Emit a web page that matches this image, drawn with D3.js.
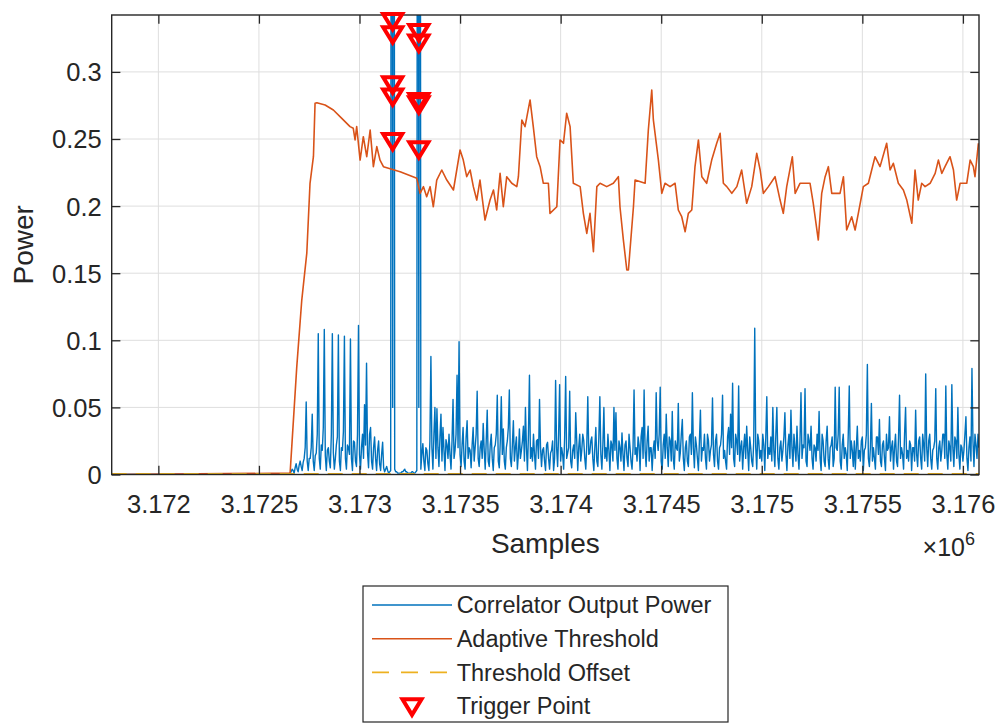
<!DOCTYPE html>
<html><head><meta charset="utf-8">
<script src="https://cdn.jsdelivr.net/npm/d3@7"></script>
<style>
body{margin:0;background:#fff}
svg{display:block}
text{font-family:"Liberation Sans",Arial,Helvetica,sans-serif;fill:#262626}
</style>
</head><body>
<svg id="chart" width="1001" height="724"></svg>
<script>
// ---------------- data ----------------
const xLimits = [3171768, 3176080];
const yLimits = [0, 0.3424];
const xTicks = [3172000, 3172500, 3173000, 3173500, 3174000, 3174500, 3175000, 3175500, 3176000];
const xTickLabels = ["3.172", "3.1725", "3.173", "3.1735", "3.174", "3.1745", "3.175", "3.1755", "3.176"];
const yTicks = [0, 0.05, 0.1, 0.15, 0.2, 0.25, 0.3];
const yTickLabels = ["0", "0.05", "0.1", "0.15", "0.2", "0.25", "0.3"];
const seriesNames = ["Correlator Output Power", "Adaptive Threshold", "Threshold Offset", "Trigger Point"];

// Correlator output power: quiet lead-in, then samples every 5 (even ones in corrValues, odd ones in corrMidValues)
const corrLeadSamples = [3171768, 3172645];
const corrLeadValues = [0, 0];
const corrStart = 3172655;
const corrStep = 10;
const corrValues = [
0.001,0.004,0.001,0.008,0.002,0.010,0.003,0.012,0.054,0.003,
0.012,0.045,0.003,0.016,0.105,0.004,0.018,0.108,0.003,0.020,
0.005,0.105,0.004,0.022,0.104,0.003,0.018,0.103,0.004,0.020,
0.101,0.003,0.024,0.006,0.111,0.004,0.030,0.052,0.083,0.005,
0.035,0.004,0.028,0.003,0.025,0.003,0.024,0.002,0.006,0.001,
0.003,0.050,0.004,0.002,0.001,0.001,0.002,0.004,0.002,0.001,
0.001,0.002,0.001,0.003,0.050,0.004,0.023,0.003,0.018,0.003,
0.088,0.004,0.050,0.049,0.006,0.045,0.035,0.003,0.022,0.030,
0.004,0.056,0.018,0.074,0.099,0.006,0.035,0.004,0.040,0.020,
0.005,0.035,0.020,0.062,0.006,0.025,0.038,0.004,0.048,0.006,
0.030,0.003,0.022,0.059,0.005,0.058,0.034,0.004,0.025,0.063,
0.006,0.040,0.020,0.004,0.034,0.018,0.036,0.050,0.003,0.074,
0.020,0.030,0.004,0.026,0.056,0.006,0.020,0.003,0.024,0.004,
0.018,0.003,0.070,0.006,0.067,0.020,0.004,0.073,0.016,0.062,
0.005,0.022,0.046,0.003,0.030,0.018,0.025,0.004,0.058,0.016,
0.028,0.003,0.035,0.006,0.058,0.004,0.050,0.020,0.030,0.003,
0.022,0.050,0.046,0.004,0.020,0.031,0.003,0.025,0.006,0.020,
0.004,0.063,0.020,0.028,0.003,0.035,0.063,0.006,0.036,0.020,
0.003,0.025,0.061,0.018,0.065,0.004,0.030,0.045,0.006,0.025,
0.047,0.004,0.020,0.053,0.016,0.041,0.003,0.025,0.006,0.030,
0.061,0.005,0.022,0.003,0.048,0.020,0.030,0.004,0.025,0.018,
0.057,0.006,0.030,0.004,0.022,0.059,0.018,0.004,0.035,0.045,
0.068,0.006,0.025,0.066,0.020,0.004,0.030,0.036,0.003,0.020,
0.006,0.109,0.004,0.025,0.018,0.030,0.003,0.058,0.020,0.028,
0.050,0.006,0.050,0.004,0.025,0.018,0.046,0.003,0.030,0.048,
0.006,0.020,0.036,0.004,0.061,0.022,0.064,0.006,0.025,0.036,
0.004,0.020,0.030,0.047,0.003,0.025,0.006,0.036,0.004,0.022,
0.006,0.065,0.018,0.065,0.004,0.030,0.020,0.003,0.066,0.025,
0.006,0.004,0.036,0.018,0.025,0.003,0.020,0.082,0.006,0.053,
0.020,0.004,0.028,0.041,0.006,0.025,0.003,0.018,0.043,0.020,
0.004,0.030,0.006,0.059,0.020,0.004,0.050,0.018,0.025,0.003,
0.020,0.048,0.006,0.028,0.004,0.022,0.075,0.006,0.030,0.004,
0.020,0.064,0.004,0.025,0.018,0.030,0.066,0.004,0.020,0.067,
0.006,0.025,0.050,0.004,0.020,0.018,0.043,0.003,0.028,0.079,0.006,0.022,0.030
];
const corrMidValues = [
0.002,0.003,0.005,0.004,0.007,0.006,0.009,0.020,0.010,0.012,
0.020,0.010,0.014,0.030,0.012,0.022,0.035,0.014,0.018,0.010,
0.030,0.016,0.012,0.028,0.010,0.020,0.032,0.012,0.022,0.015,
0.012,0.025,0.010,0.030,0.015,0.020,0.012,0.022,0.016,0.030,
0.010,0.020,0.012,0.018,0.008,0.015,0.005,0.004,0.003,0.002,
1.100,1.100,0.002,0.001,0.001,0.002,0.003,0.002,0.001,0.001,
0.002,0.001,0.002,1.000,1.000,0.015,0.010,0.020,0.008,0.025,
0.020,0.030,0.012,0.020,0.028,0.010,0.018,0.026,0.012,0.015,
0.025,0.012,0.030,0.020,0.015,0.022,0.010,0.028,0.012,0.018,
0.022,0.010,0.030,0.012,0.020,0.012,0.018,0.025,0.010,0.022,
0.012,0.020,0.030,0.010,0.025,0.015,0.010,0.020,0.035,0.012,
0.022,0.010,0.028,0.015,0.012,0.025,0.010,0.020,0.030,0.012,
0.010,0.015,0.025,0.012,0.020,0.018,0.010,0.022,0.012,0.016,
0.025,0.012,0.020,0.030,0.010,0.015,0.028,0.012,0.020,0.010,
0.018,0.012,0.025,0.020,0.010,0.030,0.012,0.022,0.015,0.025,
0.012,0.020,0.010,0.028,0.015,0.022,0.012,0.010,0.018,0.025,
0.010,0.018,0.012,0.025,0.010,0.015,0.022,0.012,0.030,0.010,
0.020,0.015,0.010,0.022,0.028,0.012,0.018,0.025,0.010,0.020,
0.018,0.012,0.025,0.030,0.010,0.022,0.012,0.020,0.028,0.010,
0.012,0.025,0.018,0.010,0.030,0.012,0.020,0.010,0.028,0.015,
0.020,0.028,0.012,0.025,0.010,0.018,0.012,0.030,0.010,0.022,
0.015,0.025,0.010,0.020,0.030,0.012,0.010,0.028,0.015,0.020,
0.012,0.030,0.015,0.010,0.025,0.020,0.012,0.018,0.028,0.010,
0.025,0.020,0.030,0.012,0.010,0.022,0.028,0.012,0.015,0.010,
0.018,0.030,0.012,0.020,0.010,0.028,0.015,0.022,0.012,0.020,
0.030,0.010,0.015,0.025,0.012,0.020,0.010,0.030,0.018,0.012,
0.022,0.010,0.018,0.012,0.030,0.010,0.025,0.012,0.020,0.028,
0.012,0.020,0.030,0.010,0.022,0.012,0.015,0.030,0.012,0.018,
0.025,0.020,0.012,0.010,0.028,0.018,0.030,0.012,0.020,0.010,
0.012,0.028,0.015,0.010,0.022,0.012,0.030,0.020,0.010,0.025,
0.020,0.010,0.028,0.012,0.015,0.030,0.012,0.010,0.022,0.020,
0.010,0.015,0.025,0.012,0.030,0.010,0.020,0.025,0.012,0.018,
0.025,0.012,0.020,0.010,0.030,0.012,0.015,0.025,0.010,0.020,
0.028,0.012,0.015,0.022,0.010,0.030,0.012,0.020,0.010,0.025,0.030,0.012,0.020
];

// Adaptive threshold
const thresholdSamples = [
3171768,3172655,3172688,3172713,3172738,3172754,3172771,3172779,3172788,3172829,
3172870,3172912,3172953,3172969,3172978,3172986,3173003,3173019,3173036,3173053,
3173069,3173086,3173102,3173119,3173202,3173285,3173301,3173318,3173334,3173351,
3173367,3173384,3173409,3173434,3173467,3173500,3173516,3173533,3173550,3173566,
3173583,3173599,3173624,3173649,3173666,3173682,3173699,3173715,3173732,3173757,
3173782,3173790,3173807,3173823,3173848,3173864,3173881,3173898,3173914,3173939,
3173947,3173981,3173997,3174014,3174030,3174047,3174063,3174097,3174113,3174130,
3174146,3174163,3174180,3174196,3174229,3174262,3174287,3174295,3174312,3174329,
3174337,3174362,3174370,3174420,3174436,3174453,3174461,3174486,3174503,3174519,
3174544,3174569,3174585,3174602,3174619,3174635,3174652,3174668,3174685,3174702,
3174726,3174751,3174776,3174793,3174809,3174826,3174851,3174876,3174900,3174925,
3174950,3174975,3174992,3175008,3175033,3175066,3175091,3175107,3175124,3175152,
3175166,3175190,3175240,3175256,3175281,3175298,3175315,3175331,3175348,3175389,
3175406,3175422,3175447,3175464,3175480,3175505,3175530,3175563,3175588,3175621,
3175638,3175654,3175679,3175704,3175721,3175746,3175762,3175778,3175795,3175812,
3175837,3175862,3175878,3175895,3175911,3175936,3175953,3175969,3175986,3176019,
3176036,3176052,3176060,3176077
];
const thresholdValues = [
0,0.001,0.080,0.130,0.165,0.217,0.237,0.2766,0.277,0.2753,
0.2716,0.2654,0.2592,0.258,0.2493,0.2592,0.2343,0.2517,0.2368,0.2567,
0.2294,0.2443,0.2343,0.2294,0.2256,0.2207,0.2095,0.2145,0.207,0.2145,
0.1995,0.2194,0.2269,0.2194,0.212,0.2418,0.2343,0.2219,0.2269,0.2145,
0.2045,0.2194,0.1896,0.2045,0.212,0.1971,0.2244,0.1995,0.2219,0.217,
0.2145,0.2219,0.2642,0.2592,0.2791,0.2592,0.2368,0.2294,0.217,0.217,
0.1946,0.1995,0.2493,0.2468,0.2692,0.2592,0.217,0.2145,0.1946,0.1797,
0.1946,0.166,0.2145,0.217,0.2145,0.217,0.2219,0.1995,0.1747,0.1524,
0.1524,0.1995,0.2194,0.217,0.2567,0.2865,0.2642,0.2343,0.2095,0.217,
0.2145,0.217,0.1971,0.1921,0.1809,0.1946,0.1971,0.2294,0.2493,0.2219,
0.217,0.2343,0.2468,0.2542,0.217,0.2145,0.2095,0.2145,0.2269,0.2021,
0.2145,0.2393,0.2269,0.2095,0.2145,0.2219,0.2045,0.1946,0.2145,0.2368,
0.2095,0.217,0.217,0.2021,0.1747,0.2095,0.2219,0.2294,0.2095,0.2095,
0.2219,0.1822,0.1921,0.1822,0.1946,0.2145,0.217,0.2368,0.2294,0.2468,
0.2269,0.2319,0.217,0.212,0.2045,0.1872,0.2269,0.2045,0.217,0.2145,
0.217,0.2244,0.2343,0.2244,0.2294,0.2368,0.2269,0.2045,0.217,0.217,
0.2343,0.2294,0.2219,0.2468
];

// Threshold offset (constant)
const offsetSamples = [3171768, 3176080];
const offsetValues = [0.0005, 0.0005];

// Trigger points
const triggerSamples = [3173165,3173165,3173165,3173165,3173165,3173295,3173295,3173295,3173295,3173295];
const triggerValues = [0.3374,0.3275,0.2902,0.2811,0.2480,0.3292,0.3213,0.2778,0.2753,0.2418];

// ---------------- drawing ----------------
const colors = {corr: "#0072BD", thr: "#D95319", off: "#EDB120", trig: "#FF0000", axis: "#262626", grid: "#dedede"};
const L = 111.7, R = 979, T = 15, B = 474.5;
const svg = d3.select("#chart");
const x = d3.scaleLinear().domain(xLimits).range([L, R]);
const y = d3.scaleLinear().domain(yLimits).range([B, T]);

svg.append("rect").attr("x", 0).attr("y", 0).attr("width", 1001).attr("height", 724).attr("fill", "#fff");

svg.append("defs").append("clipPath").attr("id", "clip")
  .append("rect").attr("x", L).attr("y", T).attr("width", R - L).attr("height", B - T);

// grid
const grid = svg.append("g");
grid.selectAll(".gx").data(xTicks).join("line")
  .attr("x1", d => x(d)).attr("x2", d => x(d)).attr("y1", T).attr("y2", B)
  .attr("stroke", colors.grid).attr("stroke-width", 1);
grid.selectAll(".gy").data(yTicks).join("line")
  .attr("y1", d => y(d)).attr("y2", d => y(d)).attr("x1", L).attr("x2", R)
  .attr("stroke", colors.grid).attr("stroke-width", 1);

const line = d3.line().x(d => x(d[0])).y(d => y(d[1]));
const plot = svg.append("g").attr("clip-path", "url(#clip)");

const corrPoints = corrLeadSamples.map((s, i) => [s, corrLeadValues[i]]);
corrValues.forEach((v, i) => {
  corrPoints.push([corrStart + i * corrStep, v]);
  corrPoints.push([corrStart + i * corrStep + corrStep / 2, corrMidValues[i]]);
});
plot.append("path").datum(corrPoints).attr("d", line)
  .attr("fill", "none").attr("stroke", colors.corr).attr("stroke-width", 1.4).attr("stroke-linejoin", "round");

const thrPoints = thresholdSamples.map((s, i) => [s, thresholdValues[i]]);
plot.append("path").datum(thrPoints).attr("d", line)
  .attr("fill", "none").attr("stroke", colors.thr).attr("stroke-width", 1.6).attr("stroke-linejoin", "round");

const offPoints = offsetSamples.map((s, i) => [s, offsetValues[i]]);
plot.append("path").datum(offPoints).attr("d", line)
  .attr("fill", "none").attr("stroke", colors.off).attr("stroke-width", 1.6).attr("stroke-dasharray", "15,9");

// axes
const tickLen = 8.7;
const fontTick = 25.5;
const ax = svg.append("g").attr("transform", `translate(0,${B})`)
  .call(d3.axisBottom(x).tickValues(xTicks).tickFormat((d, i) => xTickLabels[i]).tickSizeInner(-tickLen).tickSizeOuter(0));
ax.selectAll("text").attr("y", 0).attr("dy", 0).attr("transform", "translate(0,38.5)").style("font-size", fontTick + "px");
const axT = svg.append("g").attr("transform", `translate(0,${T})`)
  .call(d3.axisTop(x).tickValues(xTicks).tickFormat("").tickSizeInner(-tickLen).tickSizeOuter(0));
const ay = svg.append("g").attr("transform", `translate(${L},0)`)
  .call(d3.axisLeft(y).tickValues(yTicks).tickFormat((d, i) => yTickLabels[i]).tickSizeInner(-tickLen).tickSizeOuter(0).tickPadding(10));
ay.selectAll("text").attr("dy", "0.35em").style("font-size", fontTick + "px");
const ayR = svg.append("g").attr("transform", `translate(${R},0)`)
  .call(d3.axisRight(y).tickValues(yTicks).tickFormat("").tickSizeInner(-tickLen).tickSizeOuter(0));
[ax, axT, ay, ayR].forEach(g => {
  g.select(".domain").remove();
  g.selectAll(".tick line").attr("stroke", colors.axis).attr("stroke-width", 1.3);
  g.selectAll("text").attr("fill", colors.axis).style("font-family", '"Liberation Sans",Arial,sans-serif');
});
svg.append("rect").attr("x", L).attr("y", T).attr("width", R - L).attr("height", B - T)
  .attr("fill", "none").attr("stroke", colors.axis).attr("stroke-width", 1.4);

// trigger markers (drawn on top, unclipped)
const tri = "M-9.5,-7.75L9.5,-7.75L0,7.75Z";
svg.append("g").selectAll("path").data(triggerSamples.map((s, i) => [s, triggerValues[i]])).join("path")
  .attr("d", tri).attr("transform", d => `translate(${x(d[0])},${y(d[1])})`)
  .attr("fill", "none").attr("stroke", colors.trig).attr("stroke-width", 4).attr("stroke-linejoin", "miter");

// axis labels
svg.append("text").attr("x", (L + R) / 2).attr("y", 553).attr("text-anchor", "middle")
  .style("font-size", "28px").text("Samples");
svg.append("text").attr("transform", `translate(33,${(T + B) / 2}) rotate(-90)`).attr("text-anchor", "middle")
  .style("font-size", "28px").text("Power");
const ex = svg.append("text").attr("x", R - 4).attr("y", 556).attr("text-anchor", "end");
ex.append("tspan").style("font-size", "25px").text("\u00d710");
ex.append("tspan").style("font-size", "18px").attr("dy", -11).text("6");

// legend
const lg = svg.append("g");
lg.append("rect").attr("x", 363).attr("y", 586).attr("width", 365).attr("height", 136)
  .attr("fill", "#fff").attr("stroke", colors.axis).attr("stroke-width", 1.2);
const rowY = [605, 638.7, 672.4, 706.1];
const lgStyles = [
  {c: colors.corr, dash: null},
  {c: colors.thr, dash: null},
  {c: colors.off, dash: "17,12"},
  null
];
seriesNames.forEach((name, i) => {
  const st = lgStyles[i];
  if (st) {
    lg.append("line").attr("x1", 372).attr("x2", 452).attr("y1", rowY[i]).attr("y2", rowY[i])
      .attr("stroke", st.c).attr("stroke-width", 1.6).attr("stroke-dasharray", st.dash);
  } else {
    lg.append("path").attr("d", tri).attr("transform", `translate(412,${rowY[i] + 1})`)
      .attr("fill", "none").attr("stroke", colors.trig).attr("stroke-width", 4);
  }
  lg.append("text").attr("x", 456.7).attr("y", rowY[i]).attr("dy", "0.35em")
    .style("font-size", "23.5px").text(name);
});
</script>
</body></html>
